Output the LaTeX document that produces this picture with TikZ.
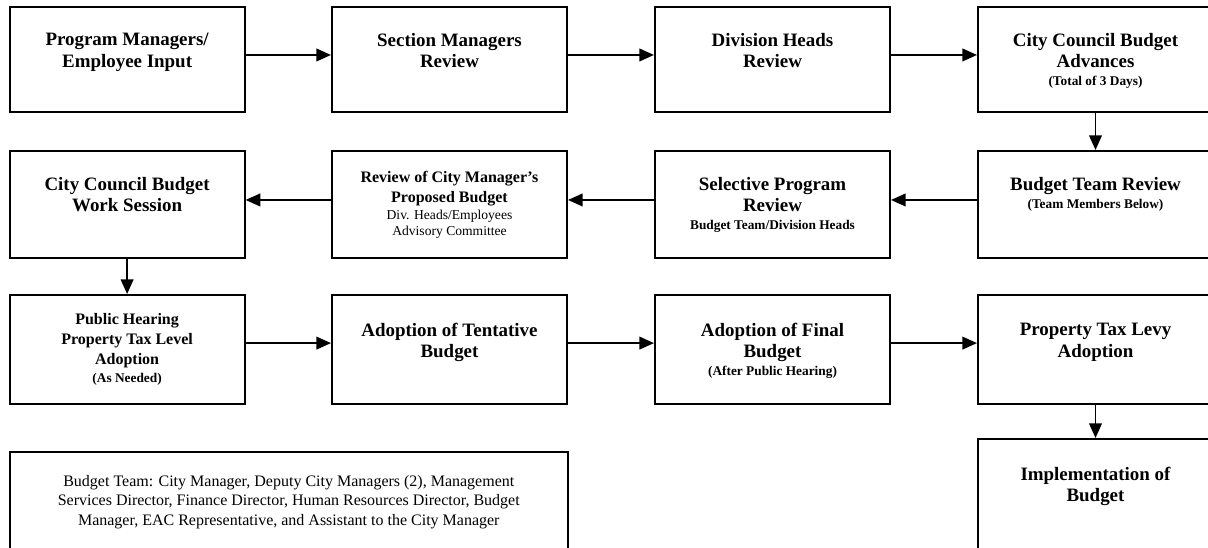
\documentclass[tikz,border=0pt]{standalone}
\usepackage{fontspec}
\setmainfont{Liberation Serif}
\usetikzlibrary{arrows.meta}
\newcommand\fhd{\fontsize{14.2}{16}\selectfont\bfseries}
\newcommand\fmd{\fontsize{12}{15}\selectfont\bfseries}
\newcommand\fsm{\fontsize{10}{12.5}\selectfont\bfseries}
\newcommand\frg{\fontsize{10.2}{12}\selectfont\mdseries}
\newcommand\fbt{\fontsize{12}{14.6}\selectfont\mdseries}
\begin{document}
\begin{tikzpicture}[x=0.75pt,y=-0.75pt,
  box/.style={draw, line width=1.5pt, inner sep=0pt, minimum width=176.25pt},
  r1/.style={box, minimum height=78.75pt},
  r2/.style={box, minimum height=80.25pt},
  r3/.style={box, minimum height=82.1pt},
  txt/.style={align=center, inner sep=0pt, anchor=north, font=\fhd},
  arr/.style={line width=1.4pt, -{Triangle[length=11pt,width=9.5pt]}}]
\useasboundingbox (0,0) rectangle (1208,547);
\clip (0,0) rectangle (1208,547);
% row 1
\node[r1] (b1) at (127.1,59.5) {};
\node[r1] (b2) at (449.5,59.5) {};
\node[r1] (b3) at (772.5,59.5) {};
\node[r1] (b4) at (1095.5,59.5) {};
% row 2
\node[r2] (b5) at (127.1,204.5) {};
\node[r2] (b6) at (449.5,204.5) {};
\node[r2] (b7) at (772.5,204.5) {};
\node[r2] (b8) at (1095.5,204.5) {};
% row 3
\node[r3] (b9) at (127.1,349.75) {};
\node[r3] (b10) at (449.5,349.75) {};
\node[r3] (b11) at (772.5,349.75) {};
\node[r3] (b12) at (1095.5,349.75) {};
% bottom
\node[box, minimum width=418.8pt, minimum height=72.75pt] (b14) at (288.8,500.5) {};
\node[box, minimum height=82.5pt] (b13) at (1095.5,494) {};
% texts
\node[txt] (t1) at ([yshift=-20.25pt]b1.north) {Program Managers/\\Employee Input};
\node[txt] (t2) at ([yshift=-20.25pt]b2.north) {Section Managers\\Review};
\node[txt] (t3) at ([yshift=-20.25pt]b3.north) {Division Heads\\Review};
\node[txt] (t4) at ([yshift=-20.25pt]b4.north) {City Council Budget\\Advances\\[-2.5pt]\fsm (Total of 3 Days)};
\node[txt] (t5) at ([yshift=-20.25pt]b5.north) {City Council Budget\\Work Session};
\node[txt, font=\fmd] (t6) at ([yshift=-15.75pt]b6.north) {Review of City Manager’s\\Proposed Budget\\[-2pt]\frg Div. Heads/Employees\\[-3pt]\frg Advisory Committee};
\node[txt] (t7) at ([yshift=-20.25pt]b7.north) {Selective Program\\Review\\[-2.5pt]\fsm Budget Team/Division Heads};
\node[txt] (t8) at ([yshift=-20.25pt]b8.north) {Budget Team Review\\[-2.5pt]\fsm (Team Members Below)};
\node[txt, font=\fmd] (t9) at ([yshift=-14.25pt]b9.north) {Public Hearing\\Property Tax Level\\Adoption\\[-1.5pt]\fsm (As Needed)};
\node[txt] (t10) at ([yshift=-21.75pt]b10.north) {Adoption of Tentative\\Budget};
\node[txt] (t11) at ([yshift=-21.75pt]b11.north) {Adoption of Final\\Budget\\[-2.5pt]\fsm (After Public Hearing)};
\node[txt] (t12) at ([yshift=-21.75pt]b12.north) {Property Tax Levy\\Adoption};
\node[txt] (t13) at ([yshift=-21.75pt]b13.north) {Implementation of\\Budget};
\node[txt, font=\fbt] (t14) at ([yshift=-18pt]b14.north) {Budget Team: City Manager, Deputy City Managers (2), Management\\Services Director, Finance Director, Human Resources Director, Budget\\Manager, EAC Representative, and Assistant to the City Manager};
% connectors
\draw[arr] ([yshift=3.4pt]b1.east) -- ([yshift=3.4pt]b2.west);
\draw[arr] ([yshift=3.4pt]b2.east) -- ([yshift=3.4pt]b3.west);
\draw[arr] ([yshift=3.4pt]b3.east) -- ([yshift=3.4pt]b4.west);
\draw[arr] (b4.south) -- (b8.north);
\draw[arr] ([yshift=3.4pt]b8.west) -- ([yshift=3.4pt]b7.east);
\draw[arr] ([yshift=3.4pt]b7.west) -- ([yshift=3.4pt]b6.east);
\draw[arr] ([yshift=3.4pt]b6.west) -- ([yshift=3.4pt]b5.east);
\draw[arr] (b5.south) -- (b9.north);
\draw[arr] ([yshift=5pt]b9.east) -- ([yshift=5pt]b10.west);
\draw[arr] ([yshift=5pt]b10.east) -- ([yshift=5pt]b11.west);
\draw[arr] ([yshift=5pt]b11.east) -- ([yshift=5pt]b12.west);
\draw[arr] (b12.south) -- (b13.north);
\end{tikzpicture}
\end{document}
